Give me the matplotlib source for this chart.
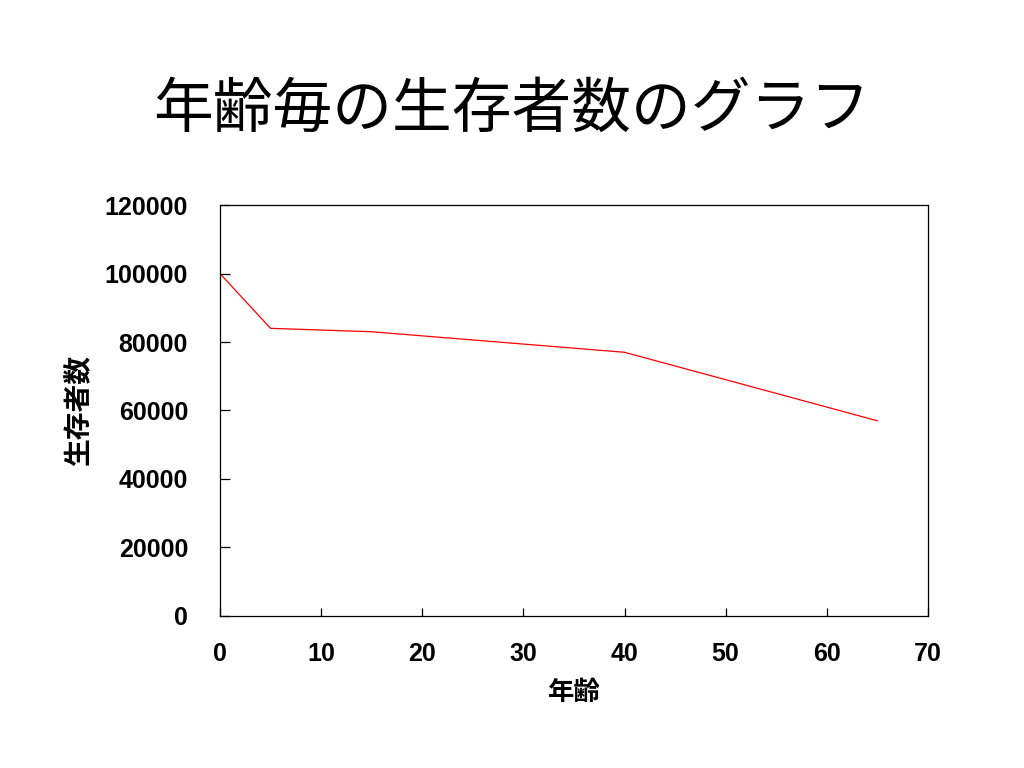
import matplotlib
matplotlib.use("Agg")
import matplotlib.pyplot as plt

# 年齢と生存者数
ages = [0, 5, 15, 40, 65]
survivors = [100000, 84000, 83000, 77000, 57000]

xticks = [0, 10, 20, 30, 40, 50, 60, 70]
yticks = [0, 20000, 40000, 60000, 80000, 100000, 120000]

plt.rcParams['font.family'] = ['Noto Sans CJK JP', 'DejaVu Sans']

fig = plt.figure(figsize=(10.24, 7.68), dpi=100)
ax = fig.add_axes([0.2148, 0.198, 0.6914, 0.535])

ax.plot(ages, survivors, color='#ff0000', lw=0.9)

ax.set_xlim(0, 70)
ax.set_ylim(0, 120000)
ax.set_xticks(xticks)
ax.set_yticks(yticks)
num_font = dict(family=['Liberation Sans', 'DejaVu Sans'], fontsize=18, fontweight='bold')
ax.set_xticklabels([str(t) for t in xticks], **num_font)
ax.set_yticklabels([str(t) for t in yticks], **num_font)
ax.tick_params(axis='x', direction='in', length=6, width=0.9, pad=19)
ax.tick_params(axis='y', direction='in', length=7, width=0.9, pad=23)
for s in ax.spines.values():
    s.set_linewidth(0.9)

ax.set_xlabel('年齢', fontsize=19, fontweight='bold', labelpad=9)
ax.set_ylabel('生存者数', fontsize=20, fontweight='bold', labelpad=8)

fig.text(0.5, 0.856, '年齢毎の生存者数のグラフ', fontsize=43, ha='center', va='center')

fig.savefig('out.png', dpi=100)
